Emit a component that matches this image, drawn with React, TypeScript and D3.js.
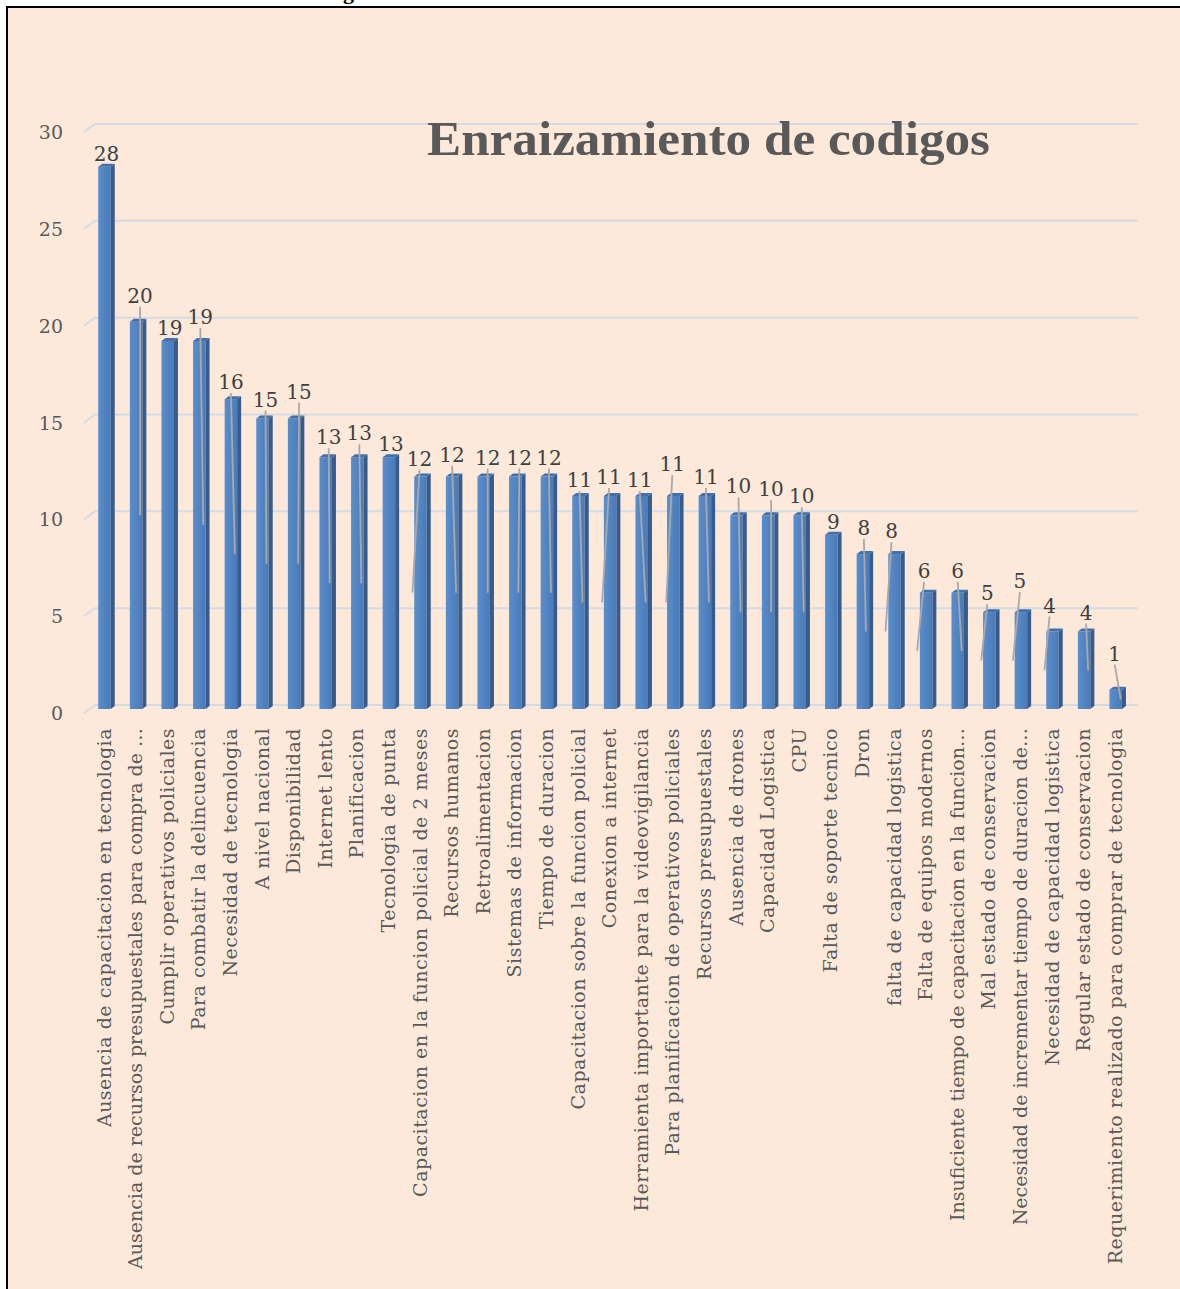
import React from "react";
import * as d3 from "d3";

const categories: string[] = [
  "Ausencia de capacitacion en tecnologia",
  "Ausencia de recursos presupuestales para compra de …",
  "Cumplir operativos policiales",
  "Para combatir la delincuencia",
  "Necesidad de tecnologia",
  "A nivel nacional",
  "Disponibilidad",
  "Internet lento",
  "Planificacion",
  "Tecnologia de punta",
  "Capacitacion en la funcion policial de 2 meses",
  "Recursos humanos",
  "Retroalimentacion",
  "Sistemas de informacion",
  "Tiempo de duracion",
  "Capacitacion sobre la funcion policial",
  "Conexion a internet",
  "Herramienta importante para la videovigilancia",
  "Para planificacion de operativos policiales",
  "Recursos presupuestales",
  "Ausencia de drones",
  "Capacidad Logistica",
  "CPU",
  "Falta de soporte tecnico",
  "Dron",
  "falta de capacidad logistica",
  "Falta de equipos modernos",
  "Insuficiente tiempo de capacitacion en la funcion…",
  "Mal estado de conservacion",
  "Necesidad de incrementar tiempo de duracion de…",
  "Necesidad de capacidad logistica",
  "Regular estado de conservacion",
  "Requerimiento realizado para comprar de tecnologia",
];

const values: number[] = [
  28, 20, 19, 19, 16, 15, 15, 13, 13, 13, 12, 12, 12, 12, 12, 11, 11, 11, 11, 11,
  10, 10, 10, 9, 8, 8, 6, 6, 5, 5, 4, 4, 1,
];

const yTicks: number[] = [0, 5, 10, 15, 20, 25, 30];

// manual data-label nudges [dx, dy] and leader-line end side (0 = none)
const labelNudge: [number, number, number][] = [
  [0, 0, 0], [2, -13, 4], [0, 0, 0], [-1, -11, 4], [-2, -4, 4], [1, -6, 4], [3, -14, 4],
  [1, -7, 4], [0, -11, 4], [0, 0, 0], [-3, -5, -8], [-2, -9, 4], [2, -6, 4], [2, -6, 3],
  [0, -6, 4], [-1, -3, 4], [-3, -6, -8], [-4, -3, 4], [-3, -19, -7], [-1, -6, 4],
  [0, -16, 4], [1, -13, 3], [0, -6, 4], [0, 0, 0], [-1, -13, 3], [-5, -10, -9],
  [-4, -9, -9], [-2, -9, 4], [-4, -6, -8], [-3, -18, -8], [-5, -13, -8], [0, -6, 4],
  [-3, -23, 5],
];

const W = 1180;
const H = 1289;

export default function App() {
  const x = d3
    .scalePoint<string>()
    .domain(categories)
    .range([104.5, 104.5 + 32 * 31.6]);
  const y = d3.scaleLinear().domain([0, 30]).range([709, 128]);
  const bw = 12.5;
  const dx = 4;
  const dy = 3;
  const serif = "'DejaVu Serif', 'Liberation Serif', serif";

  return (
    <svg
      width={W}
      height={H}
      style={{ position: "absolute", left: 0, top: 0, background: "#ffffff" }}
    >
      <defs>
        <linearGradient id="front" x1="0" x2="1" y1="0" y2="0">
          <stop offset="0" stopColor="#5a8dcc" />
          <stop offset="1" stopColor="#4a7bb8" />
        </linearGradient>
      </defs>
      <text x={343} y={-1} fontFamily="'Liberation Serif', serif" fontWeight="bold" fontSize={22} fill="#000">
        g
      </text>
      <rect x={7} y={7} width={W} height={H} fill="#fde9da" stroke="#000" strokeWidth={2} />

      {/* gridlines */}
      {yTicks.map((t) => {
        const yy = y(t);
        return (
          <g key={t}>
            <path
              d={`M84,${yy + 4}L95,${yy - 4}H1138`}
              fill="none"
              stroke="#d5dbe2"
              strokeWidth={2}
            />
            <text
              x={63}
              y={yy + 4}
              textAnchor="end"
              dominantBaseline="central"
              fontFamily={serif}
              fontSize={19}
              fill="#595959"
            >
              {t}
            </text>
          </g>
        );
      })}

      {/* title */}
      <text
        x={427}
        y={155}
        fontFamily="'Liberation Serif', serif"
        fontWeight="bold"
        fontSize={48}
        fill="#595959"
        textLength={563}
        lengthAdjust="spacingAndGlyphs"
      >
        Enraizamiento de codigos
      </text>

      {/* bars */}
      {categories.map((c, i) => {
        const cx = x(c) as number;
        const x0 = cx - bw / 2;
        const top = y(values[i]);
        const bot = y(0);
        return (
          <g key={c}>
            <rect x={x0} y={top} width={bw} height={bot - top} fill="url(#front)" />
            <polygon
              points={`${x0 + bw},${top} ${x0 + bw + dx},${top - dy} ${x0 + bw + dx},${bot - dy} ${x0 + bw},${bot}`}
              fill="#375c8c"
            />
            <polygon
              points={`${x0},${top} ${x0 + dx},${top - dy} ${x0 + bw + dx},${top - dy} ${x0 + bw},${top}`}
              fill="#4171ad"
            />
          </g>
        );
      })}

      {/* leader lines and data labels */}
      {categories.map((c, i) => {
        const cx = x(c) as number;
        const top = y(values[i]);
        const [ndx, ndy, side] = labelNudge[i];
        const lx = cx + 2 + ndx;
        const ly = top - 13 + ndy;
        const mid = y(values[i] / 2);
        return (
          <g key={"l" + c}>
            {side !== 0 && (
              <line
                x1={lx}
                y1={ly + 11}
                x2={cx + side}
                y2={mid}
                stroke="#a9a9a9"
                strokeWidth={1.8}
              />
            )}
            <text
              x={lx}
              y={ly}
              textAnchor="middle"
              dominantBaseline="central"
              fontFamily={serif}
              fontSize={20}
              fill="#404040"
            >
              {values[i]}
            </text>
          </g>
        );
      })}

      {/* category labels */}
      {categories.map((c) => {
        const cx = x(c) as number;
        const truncated = c.endsWith("…");
        return (
          <text
            key={"c" + c}
            transform={`translate(${cx - 1},728) rotate(-90)`}
            textAnchor="end"
            dominantBaseline="central"
            fontFamily={serif}
            fontSize={19}
            letterSpacing={truncated ? 0 : 0.5}
            fill="#595959"
          >
            {c}
          </text>
        );
      })}
    </svg>
  );
}
